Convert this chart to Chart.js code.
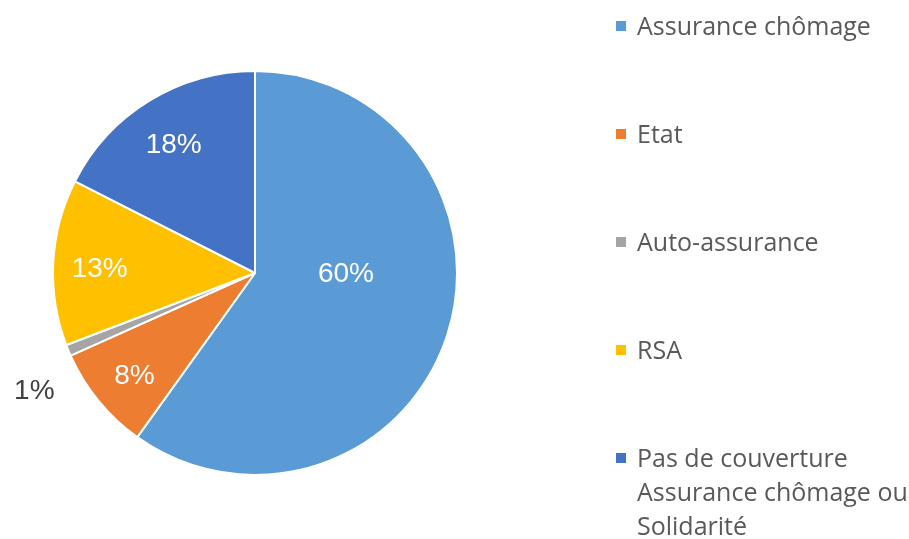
<!DOCTYPE html>
<html>
<head>
<meta charset="utf-8">
<script src="https://cdn.jsdelivr.net/npm/chart.js@4.4.1/dist/chart.umd.min.js"></script>
<style>
  html, body { margin: 0; padding: 0; background: #fff; }
  #wrap { width: 909px; height: 539px; position: relative; }
</style>
</head>
<body>
<div id="wrap"><canvas id="chart" width="909" height="539"></canvas></div>
<script>
const categories = [
  'Assurance chômage',
  'Etat',
  'Auto-assurance',
  'RSA',
  ['Pas de couverture', 'Assurance chômage ou', 'Solidarité']
];
const shares = [59.9, 8.4, 0.9, 13.3, 17.5];
const colors = ['#5B9BD5', '#ED7D31', '#A5A5A5', '#FFC000', '#4472C4'];

// custom labels: percentages on the slices, 1% outside
const sliceLabels = {
  id: 'sliceLabels',
  afterDatasetsDraw(chart) {
    const ctx = chart.ctx;
    const meta = chart.getDatasetMeta(0);
    ctx.save();
    ctx.font = '28px "Liberation Sans", Arial, sans-serif';
    ctx.textAlign = 'center';
    ctx.textBaseline = 'middle';
    meta.data.forEach((arc, i) => {
      const p = arc.getProps(['x', 'y', 'startAngle', 'endAngle', 'outerRadius'], true);
      let mid = (p.startAngle + p.endAngle) / 2;
      let r = p.outerRadius * 0.77;
      let dy = 5;
      let color = '#ffffff';
      if (shares[i] < 3) {
        mid -= 0.1;
        r = p.outerRadius * 1.24;
        dy = 0;
        color = '#404040';
      } else if (shares[i] > 50) {
        mid = 0;
        r = p.outerRadius * 0.45;
        dy = 1;
      }
      ctx.fillStyle = color;
      ctx.fillText(Math.round(shares[i]) + '%', p.x + Math.cos(mid) * r, p.y + Math.sin(mid) * r + dy);
    });
    ctx.restore();
  }
};

// legend on the right, widely spaced like the original
const sideLegend = {
  id: 'sideLegend',
  afterDraw(chart) {
    const ctx = chart.ctx;
    const x0 = 616, y0 = 28, step = 108, lineH = 34;
    ctx.save();
    ctx.font = '25px "Open Sans", sans-serif';
    ctx.textBaseline = 'middle';
    ctx.textAlign = 'left';
    categories.forEach((cat, i) => {
      const y = y0 + i * step;
      ctx.fillStyle = colors[i];
      ctx.fillRect(x0, y - 7, 10, 10);
      ctx.fillStyle = '#595959';
      const lines = Array.isArray(cat) ? cat : [cat];
      lines.forEach((t, j) => ctx.fillText(t, x0 + 21, y + j * lineH));
    });
    ctx.restore();
  }
};

new Chart(document.getElementById('chart'), {
  type: 'pie',
  data: {
    labels: categories,
    datasets: [{
      data: shares,
      backgroundColor: colors,
      borderColor: '#ffffff',
      borderWidth: 2
    }]
  },
  options: {
    responsive: false,
    animation: false,
    layout: { padding: { left: 52, right: 451, top: 70, bottom: 63 } },
    plugins: {
      legend: { display: false },
      tooltip: { enabled: false }
    }
  },
  plugins: [sliceLabels, sideLegend]
});
</script>
</body>
</html>
